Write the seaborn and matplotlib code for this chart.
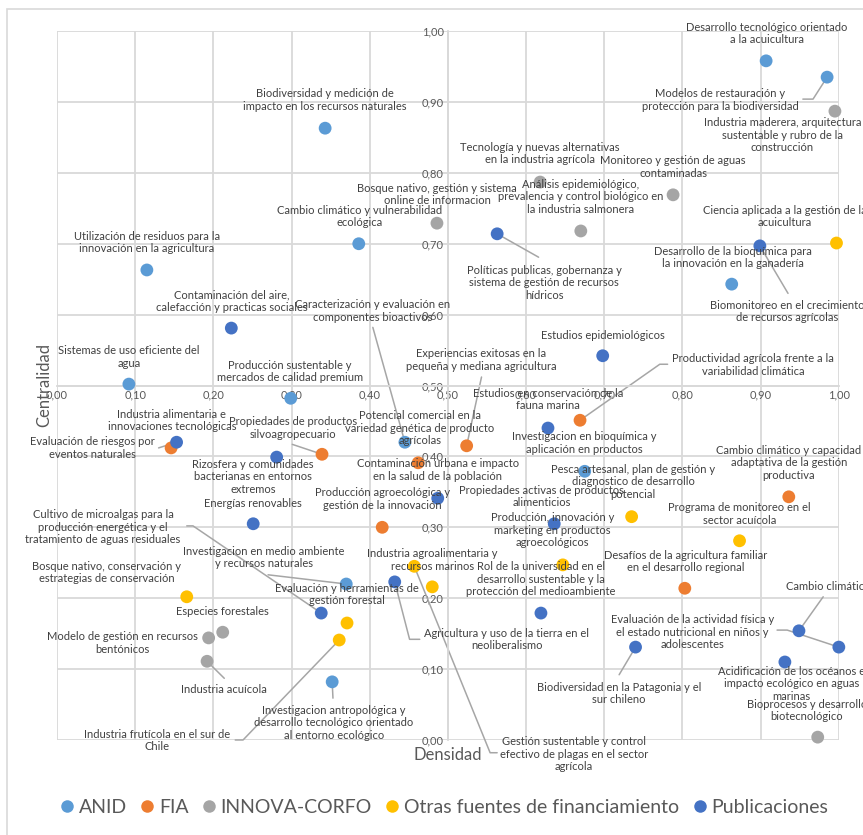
import numpy as np
import pandas as pd
import seaborn as sns
import matplotlib.pyplot as plt
from matplotlib.lines import Line2D
from matplotlib.patches import Rectangle
from matplotlib.ticker import FuncFormatter

# --- data (densidad, centralidad) per funding source ---
anid_x = [0.907, 0.985, 0.343, 0.386, 0.115, 0.863, 0.092, 0.299, 0.445, 0.675, 0.370, 0.352]
anid_y = [0.958, 0.935, 0.863, 0.700, 0.663, 0.643, 0.502, 0.482, 0.420, 0.379, 0.220, 0.082]

fia_x = [0.146, 0.339, 0.524, 0.669, 0.462, 0.416, 0.936, 0.803]
fia_y = [0.412, 0.403, 0.415, 0.451, 0.391, 0.300, 0.343, 0.214]

innova_x = [0.995, 0.618, 0.788, 0.670, 0.486, 0.212, 0.194, 0.192, 0.973]
innova_y = [0.887, 0.787, 0.769, 0.718, 0.729, 0.152, 0.144, 0.111, 0.004]

otras_x = [0.997, 0.735, 0.873, 0.647, 0.457, 0.480, 0.166, 0.371, 0.361]
otras_y = [0.701, 0.315, 0.281, 0.247, 0.245, 0.216, 0.202, 0.165, 0.141]

pub_x = [0.563, 0.899, 0.223, 0.698, 0.153, 0.281, 0.628, 0.487, 0.636, 0.251,
         0.432, 0.338, 0.619, 0.740, 0.949, 1.000, 0.931]
pub_y = [0.714, 0.697, 0.581, 0.542, 0.420, 0.399, 0.440, 0.341, 0.305, 0.305,
         0.223, 0.179, 0.179, 0.131, 0.154, 0.131, 0.110]

fuentes = ["ANID", "FIA", "INNOVA-CORFO", "Otras fuentes de financiamiento", "Publicaciones"]
colores = ["#5B9BD5", "#ED7D31", "#A5A5A5", "#FFC000", "#4472C4"]

# topic labels and where they sit on the chart
labels = [
    ("Desarrollo tecnológico orientado\na la acuicultura", 0.908, 0.997),
    ("Modelos de restauración y\nprotección para la biodiversidad", 0.848, 0.903),
    ("Industria maderera, arquitectura\nsustentable y rubro de la\nconstrucción", 0.928, 0.853),
    ("Biodiversidad y medición de\nimpacto en los recursos naturales", 0.343, 0.903),
    ("Tecnología y nuevas alternativas\nen la industria agrícola", 0.618, 0.827),
    ("Monitoreo y gestión de aguas\ncontaminadas", 0.788, 0.808),
    ("Análisis epidemiológico,\nprevalencia y control biológico en\nla industria salmonera", 0.670, 0.766),
    ("Bosque nativo, gestión y sistema\nonline de informacion", 0.486, 0.769),
    ("Cambio climático y vulnerabilidad\necológica", 0.387, 0.738),
    ("Utilización de residuos para la\ninnovación en la agricultura", 0.115, 0.702),
    ("Ciencia aplicada a la gestión de la\nacuicultura", 0.931, 0.738),
    ("Desarrollo de la bioquímica para\nla innovación en la ganadería", 0.864, 0.681),
    ("Políticas publicas, gobernanza y\nsistema de gestión de recursos\nhídricos", 0.623, 0.645),
    ("Biomonitoreo en el crecimiento\nde recursos agrícolas", 0.934, 0.604),
    ("Contaminación del aire,\ncalefacción y practicas sociales", 0.223, 0.619),
    ("Caracterización y evaluación en\ncomponentes bioactivos", 0.404, 0.605),
    ("Sistemas de uso eficiente del\nagua", 0.092, 0.540),
    ("Producción sustentable y\nmercados de calidad premium", 0.298, 0.520),
    ("Experiencias exitosas en la\npequeña y mediana agricultura", 0.543, 0.536),
    ("Estudios epidemiológicos", 0.698, 0.571),
    ("Productividad agrícola frente a la\nvariabilidad climática", 0.890, 0.529),
    ("Estudios en conservación de la\nfauna marina", 0.628, 0.480),
    ("Investigacion en bioquímica y\naplicación en productos", 0.675, 0.419),
    ("Potencial comercial en la\nvariedad genética de producto\nagrícolas", 0.464, 0.440),
    ("Industria alimentaria e\ninnovaciones tecnológicas", 0.147, 0.451),
    ("Propiedades de productos\nsilvoagropecuario", 0.302, 0.440),
    ("Evaluación de riesgos por\neventos naturales", 0.045, 0.412),
    ("Rizosfera y comunidades\nbacterianas en entornos\nextremos", 0.251, 0.371),
    ("Energías renovables", 0.251, 0.334),
    ("Contaminación urbana e impacto\nen la salud de la población", 0.487, 0.381),
    ("Producción agroecológica y\ngestión de la innovación", 0.416, 0.340),
    ("Pesca artesanal, plan de gestión y\ndiagnostico de desarrollo\npotencial", 0.737, 0.364),
    ("Propiedades activas de productos\nalimenticios", 0.620, 0.343),
    ("Producción, innovación y\nmarketing en productos\nagroecológicos", 0.634, 0.296),
    ("Cambio climático y capacidad\nadaptativa de la gestión\nproductiva", 0.936, 0.391),
    ("Programa de monitoreo en el\nsector acuícola", 0.873, 0.319),
    ("Desafíos de la agricultura familiar\nen el desarrollo regional", 0.804, 0.252),
    ("Cultivo de microalgas para la\nproducción energética y el\ntratamiento de aguas residuales", 0.059, 0.300),
    ("Investigacion en medio ambiente\ny recursos naturales", 0.265, 0.257),
    ("Bosque nativo, conservación y\nestrategias de conservación", 0.064, 0.236),
    ("Evaluación y herramientas de\ngestión forestal", 0.371, 0.205),
    ("Industria agroalimentaria y\nrecursos marinos", 0.480, 0.254),
    ("Agricultura y uso de la tierra en el\nneoliberalismo", 0.575, 0.142),
    ("Rol de la universidad en el\ndesarrollo sustentable y la\nprotección del medioambiente", 0.619, 0.227),
    ("Especies forestales", 0.212, 0.181),
    ("Modelo de gestión en recursos\nbentónicos", 0.084, 0.137),
    ("Industria acuícola", 0.214, 0.071),
    ("Investigacion antropológica y\ndesarrollo tecnológico orientado\nal entorno ecológico", 0.354, 0.024),
    ("Industria frutícola en el sur de\nChile", 0.128, -0.001),
    ("Evaluación de la actividad física y\nel estado nutricional en niños y\nadolescentes", 0.813, 0.152),
    ("Cambio climático", 0.986, 0.216),
    ("Biodiversidad en la Patagonia y el\nsur chileno", 0.719, 0.066),
    ("Acidificación de los océanos e\nimpacto ecológico en aguas\nmarinas", 0.939, 0.079),
    ("Bioprocesos y desarrollo\nbiotecnológico", 0.959, 0.042),
    ("Gestión sustentable y control\nefectivo de plagas en el sector\nagrícola", 0.661, -0.020),
]

series = {
    "ANID": (anid_x, anid_y),
    "FIA": (fia_x, fia_y),
    "INNOVA-CORFO": (innova_x, innova_y),
    "Otras fuentes de financiamiento": (otras_x, otras_y),
    "Publicaciones": (pub_x, pub_y),
}

# leader lines: (series, point index, elbow points leading from the label)
leaders = [
    ("ANID", 1, [(0.954, 0.904), (0.967, 0.904)]),
    ("Publicaciones", 0, [(0.616, 0.681)]),
    ("Publicaciones", 1, [(0.935, 0.630)]),
    ("ANID", 8, [(0.404, 0.582)]),
    ("FIA", 2, [(0.543, 0.512)]),
    ("FIA", 3, [(0.781, 0.530), (0.771, 0.530)]),
    ("FIA", 1, [(0.301, 0.417)]),
    ("Publicaciones", 4, [(0.130, 0.412)]),
    ("Publicaciones", 11, [(0.166, 0.302), (0.174, 0.302)]),
    ("ANID", 10, [(0.270, 0.233)]),
    ("Publicaciones", 10, [(0.464, 0.142), (0.451, 0.142)]),
    ("Otras fuentes de financiamiento", 4, [(0.563, -0.018), (0.554, -0.018)]),
    ("INNOVA-CORFO", 7, [(0.214, 0.087)]),
    ("ANID", 11, [(0.353, 0.059)]),
    ("Otras fuentes de financiamiento", 8, [(0.228, 0.0), (0.238, 0.0)]),
    ("Publicaciones", 15, [(0.921, 0.155), (0.934, 0.155)]),
    ("Publicaciones", 14, [(0.980, 0.202)]),
    ("Publicaciones", 13, [(0.719, 0.092)]),
]

df = pd.concat([pd.DataFrame({"Densidad": xs, "Centralidad": ys, "Fuente": k})
                for k, (xs, ys) in series.items()], ignore_index=True)

sns.set_theme(style="white")
plt.rcParams['font.family'] = ['Lato', 'DejaVu Sans']

fig = plt.figure(figsize=(8.63, 8.35), dpi=100)
ax = fig.add_axes([0.066, 0.1138, 0.906, 0.849])

# outer chart border
fig.patches.append(Rectangle((0.008, -0.02), 1.1, 1.009, transform=fig.transFigure,
                             fill=False, edgecolor="#D9D9D9", linewidth=1.2))

grid_c = "#D9D9D9"
ax.set_xlim(0, 1)
ax.set_ylim(0, 1)
ax.set_xticks(np.arange(0, 1.01, 0.1))
ax.set_yticks(np.arange(0, 1.01, 0.1))
ax.grid(True, color=grid_c, linewidth=1.3)
for s in ["top", "right"]:
    ax.spines[s].set_visible(False)
ax.spines["left"].set_position(("data", 0.5))
ax.spines["bottom"].set_position(("data", 0.5))
for s in ["left", "bottom"]:
    ax.spines[s].set_color(grid_c)
    ax.spines[s].set_linewidth(1.3)
fmt = FuncFormatter(lambda v, _: f"{v:.2f}".replace(".", ","))
ax.xaxis.set_major_formatter(fmt)
ax.yaxis.set_major_formatter(fmt)
ax.tick_params(length=0, labelsize=8, labelcolor="#595959", pad=3)

# leader lines behind the points
for name, i, elbow in leaders:
    xs, ys = series[name]
    path = elbow + [(xs[i], ys[i])]
    ax.plot([p[0] for p in path], [p[1] for p in path], color="#A6A6A6",
            linewidth=1.1, zorder=2, clip_on=False)

sns.scatterplot(data=df, x="Densidad", y="Centralidad", hue="Fuente",
                palette=dict(zip(fuentes, colores)), s=85, edgecolor="none",
                legend=False, ax=ax, zorder=3, clip_on=False)
ax.set_xlabel("")
ax.set_ylabel("")

for text, lx, ly in labels:
    ax.text(lx, ly, text, ha="center", va="center", fontsize=8, color="#404040",
            linespacing=1.15, zorder=4, clip_on=False)

fig.text(0.519, 0.096, "Densidad", ha="center", va="center", fontsize=12, color="#595959")
fig.text(0.051, 0.539, "Centralidad", ha="center", va="center", rotation=90,
         fontsize=12, color="#595959")

handles = [Line2D([0], [0], marker="o", linestyle="", markersize=9,
                  markerfacecolor=c, markeredgecolor="none") for c in colores]
fig.legend(handles, fuentes, loc="center", bbox_to_anchor=(0.513, 0.033), ncol=5,
           frameon=False, fontsize=14, handletextpad=0.1, columnspacing=0.55,
           handlelength=1.0, labelcolor="#595959")

fig.savefig("out.png", dpi=100)
